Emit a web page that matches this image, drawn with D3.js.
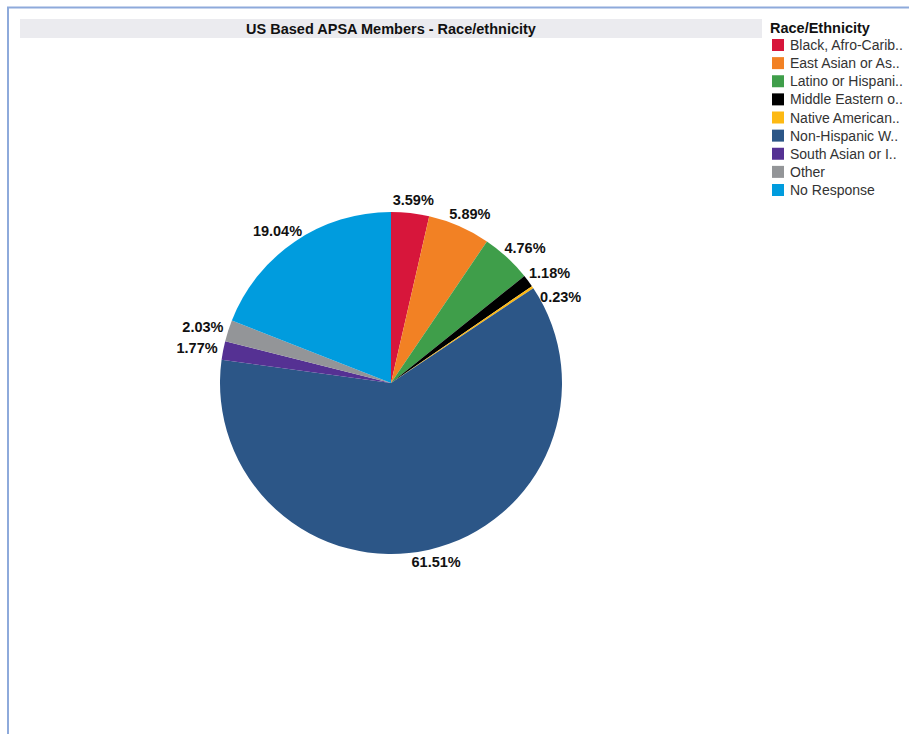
<!DOCTYPE html>
<html>
<head>
<meta charset="utf-8">
<script src="https://cdn.jsdelivr.net/npm/d3@7"></script>
<style>
  body { margin: 0; background: #fff; }
  svg { display: block; }
</style>
</head>
<body>
<svg id="chart"></svg>
<script>
// data
let categories = ['Black, Afro-Carib..', 'East Asian or As..', 'Latino or Hispani..', 'Middle Eastern o..',
                  'Native American..', 'Non-Hispanic W..', 'South Asian or I..', 'Other', 'No Response']
let values = [3.59, 5.89, 4.76, 1.18, 0.23, 61.51, 1.77, 2.03, 19.04]
let colors = ['#d7163b', '#f28124', '#3f9e4a', '#000000', '#fdb913', '#2c5687', '#553193', '#939598', '#009cde']

let width = 909, height = 734
let cx = 391, cy = 383, radius = 171

const svg = d3.select('#chart')
    .attr('width', width)
    .attr('height', height)
    .style('font-family', '"Liberation Sans", Arial, sans-serif')

// frame lines (left + top)
svg.append('path')
    .attr('d', `M8 ${height} L8 7.5 L${width} 7.5`)
    .attr('fill', 'none')
    .attr('stroke', '#8eaadb')
    .attr('stroke-width', 2)

// title band
svg.append('rect')
    .attr('x', 20).attr('y', 19)
    .attr('width', 742).attr('height', 19)
    .attr('fill', '#ebebef')

svg.append('text')
    .attr('x', 391).attr('y', 34)
    .attr('text-anchor', 'middle')
    .style('font-size', '14.5px')
    .style('font-weight', 'bold')
    .attr('fill', '#111')
    .text('US Based APSA Members - Race/ethnicity')

// pie
let pie = d3.pie().sort(null).value(d => d)
let arcs = pie(values)
let arc = d3.arc().innerRadius(0).outerRadius(radius)

const g = svg.append('g')
    .attr('transform', `translate(${cx},${cy})`)

g.selectAll('path.slice')
    .data(arcs)
    .join('path')
    .attr('class', 'slice')
    .attr('d', arc)
    .attr('fill', (d, i) => colors[i])
    .attr('stroke', 'none')

// labels: text box pushed out so its nearest side sits on a point just outside the rim
let labelR = radius + 5
let fmt = d => d.toFixed(2) + '%'
let boxes = []
let labels = g.selectAll('text.lbl')
    .data(arcs)
    .join('text')
    .attr('class', 'lbl')
    .style('font-size', '14.5px')
    .style('font-weight', 'bold')
    .attr('fill', '#111')
    .attr('text-anchor', 'middle')
    .text(d => fmt(d.data))
    .each(function (d) {
        let a = (d.startAngle + d.endAngle) / 2
        let w = this.getComputedTextLength()
        let h = 14
        let x = labelR * Math.sin(a) + (w / 2 + 1) * Math.sin(a)
        let y = -labelR * Math.cos(a) - (h / 2 + 1) * Math.cos(a)
        boxes.push({ x: x, y: y, w: w, h: h, right: Math.sin(a) >= 0 })
    })

// push overlapping neighbours apart (down on the right side, up on the left)
for (let i = 1; i < boxes.length; i++) {
    let b = boxes[i], p = boxes[i - 1]
    let ox = Math.abs(b.x - p.x) < (b.w + p.w) / 2
    let oy = Math.abs(b.y - p.y) < (b.h + p.h) / 2 + 4
    if (ox && oy) {
        let need = (b.h + p.h) / 2 + 10
        b.y = b.right ? p.y + need : p.y - need
        b.x += b.right ? 6 : -6
    }
}

labels
    .attr('x', (d, i) => boxes[i].x)
    .attr('y', (d, i) => boxes[i].y + 5)

// legend
const legend = svg.append('g')
    .attr('transform', 'translate(770,0)')

legend.append('text')
    .attr('x', 0).attr('y', 33)
    .style('font-size', '14.5px')
    .style('font-weight', 'bold')
    .attr('fill', '#111')
    .text('Race/Ethnicity')

let legendY = d3.scalePoint().domain(categories).range([45, 190])

let item = legend.selectAll('g.item')
    .data(categories)
    .join('g')
    .attr('class', 'item')
    .attr('transform', d => `translate(0,${legendY(d)})`)

item.append('rect')
    .attr('x', 2).attr('y', -6)
    .attr('width', 12).attr('height', 12)
    .attr('fill', (d, i) => colors[i])

item.append('text')
    .attr('x', 20).attr('y', 5)
    .style('font-size', '14px')
    .attr('fill', '#333')
    .text(d => d)
</script>
</body>
</html>
